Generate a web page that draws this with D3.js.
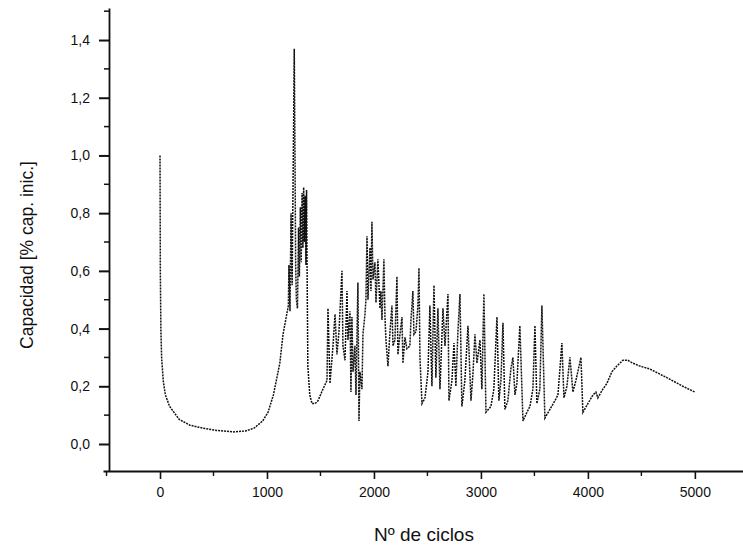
<!DOCTYPE html>
<html>
<head>
<meta charset="utf-8">
<script src="https://cdnjs.cloudflare.com/ajax/libs/d3/7.8.5/d3.min.js"></script>
<style>
  body { margin: 0; background: #fff; }
  text { font-family: "Liberation Sans", Arial, sans-serif; fill: #111; }
</style>
</head>
<body>
<svg id="canvas"></svg>
<script>
//--data (cycles vs capacity)
let cycles = [
  0, 3, 8, 15, 30, 50, 90, 180, 280, 400, 530, 690, 800, 880, 960, 1010, 1060, 1120, 1150, 1185,
  1200, 1205, 1215, 1225, 1235, 1245, 1255, 1262, 1268, 1275, 1285, 1295, 1303, 1312, 1320, 1328,
  1336, 1343, 1350, 1357, 1364, 1370, 1376, 1382, 1400, 1421, 1450, 1477, 1523, 1561, 1570, 1589,
  1617, 1636, 1654, 1673, 1701, 1710, 1729, 1748, 1757, 1776, 1785, 1794, 1804, 1822, 1832, 1850,
  1860, 1869, 1888, 1897, 1916, 1925, 1935, 1944, 1963, 1972, 1981, 1991, 2009, 2019, 2037, 2056,
  2065, 2075, 2093, 2103, 2112, 2131, 2150, 2168, 2178, 2196, 2215, 2224, 2243, 2262, 2271, 2290,
  2308, 2336, 2346, 2364, 2374, 2393, 2411, 2421, 2430, 2449, 2477, 2505, 2523, 2542, 2561, 2579,
  2598, 2617, 2645, 2664, 2692, 2701, 2729, 2748, 2766, 2785, 2804, 2822, 2850, 2879, 2907, 2925,
  2944, 2963, 2991, 3009, 3028, 3047, 3093, 3121, 3150, 3168, 3187, 3206, 3224, 3252, 3280, 3299,
  3318, 3336, 3364, 3393, 3430, 3458, 3486, 3505, 3523, 3551, 3570, 3598, 3645, 3692, 3720, 3757,
  3776, 3804, 3832, 3860, 3888, 3935, 3953, 4000, 4047, 4075, 4093, 4140, 4178, 4224, 4271, 4327,
  4374, 4421, 4486, 4579, 4738, 4888, 5000
];
let capacity = [
  1.00, 0.60, 0.40, 0.30, 0.22, 0.17, 0.13, 0.085, 0.065, 0.055, 0.047, 0.042, 0.045, 0.055, 0.08, 0.11, 0.17, 0.28, 0.38, 0.45,
  0.48, 0.62, 0.46, 0.80, 0.55, 0.95, 1.37, 0.98, 0.62, 0.50, 0.47, 0.75, 0.58, 0.82, 0.63, 0.87,
  0.68, 0.89, 0.70, 0.86, 0.62, 0.88, 0.55, 0.27, 0.17, 0.14, 0.14, 0.15, 0.19, 0.22, 0.47, 0.21,
  0.34, 0.45, 0.31, 0.39, 0.60, 0.34, 0.29, 0.53, 0.36, 0.46, 0.18, 0.44, 0.25, 0.34, 0.17, 0.56,
  0.08, 0.25, 0.19, 0.38, 0.45, 0.50, 0.72, 0.50, 0.68, 0.53, 0.77, 0.57, 0.63, 0.49, 0.64, 0.47,
  0.53, 0.43, 0.64, 0.44, 0.36, 0.27, 0.39, 0.48, 0.34, 0.36, 0.58, 0.31, 0.38, 0.44, 0.28, 0.37,
  0.33, 0.34, 0.43, 0.53, 0.38, 0.39, 0.48, 0.61, 0.30, 0.14, 0.16, 0.25, 0.48, 0.20, 0.55, 0.23,
  0.47, 0.19, 0.47, 0.34, 0.52, 0.15, 0.22, 0.35, 0.20, 0.39, 0.52, 0.13, 0.22, 0.41, 0.15, 0.24,
  0.38, 0.28, 0.36, 0.19, 0.52, 0.11, 0.13, 0.19, 0.44, 0.15, 0.22, 0.42, 0.12, 0.15, 0.26, 0.30,
  0.17, 0.21, 0.41, 0.08, 0.11, 0.13, 0.19, 0.41, 0.14, 0.19, 0.48, 0.09, 0.12, 0.15, 0.17, 0.35,
  0.16, 0.20, 0.30, 0.18, 0.22, 0.30, 0.11, 0.14, 0.17, 0.18, 0.16, 0.19, 0.21, 0.25, 0.27, 0.29,
  0.29, 0.28, 0.27, 0.26, 0.23, 0.20, 0.18
];
//--

//--ticks
let xTickValues = [0, 1000, 2000, 3000, 4000, 5000];
let xTickLabels = ["0", "1000", "2000", "3000", "4000", "5000"];
let xMinorTicks = [-500, 500, 1500, 2500, 3500, 4500];
let yTickValues = [0, 0.2, 0.4, 0.6, 0.8, 1.0, 1.2, 1.4];
let yTickLabels = ["0,0", "0,2", "0,4", "0,6", "0,8", "1,0", "1,2", "1,4"];
let yMinorTicks = [0.1, 0.3, 0.5, 0.7, 0.9, 1.1, 1.3, 1.5];
//--

//--canvas
let width = 743;
let height = 551;

let canvas = d3.select("#canvas")
canvas.attr("width", width)
canvas.attr("height", height)
//--

let xScale = d3.scaleLinear()
               .domain([-533, 5450])
               .range([103, 743])

let yScale = d3.scaleLinear()
               .domain([-0.0936, 1.511])
               .range([471, 8])

let drawChart = () => {

    //--y axis
    let yAxis = d3.axisLeft(yScale)
                  .tickValues(yTickValues)
                  .tickFormat((d, i) => yTickLabels[i])
                  .tickSize(10)
                  .tickSizeOuter(0)
                  .tickPadding(9)

    let yG = canvas.append('g')
                   .attr('transform', 'translate(109, 0)')
                   .call(yAxis)

    yG.selectAll('.tick line').attr('stroke', '#111').attr('stroke-width', 2)
    yG.select('.domain').attr('stroke', '#111').attr('stroke-width', 1.8)
    yG.selectAll('text')
      .attr('font-size', 14)
      .attr('font-family', '"Liberation Sans", Arial, sans-serif')
      .attr('fill', '#111')

    yG.selectAll('.minor')
      .data(yMinorTicks)
      .enter()
      .append('line')
      .attr('class', 'minor')
      .attr('x1', -5)
      .attr('x2', 0)
      .attr('y1', d => yScale(d))
      .attr('y2', d => yScale(d))
      .attr('stroke', '#111')
      .attr('stroke-width', 1.5)
    //--

    //--x axis
    let xAxis = d3.axisBottom(xScale)
                  .tickValues(xTickValues)
                  .tickFormat((d, i) => xTickLabels[i])
                  .tickSize(8)
                  .tickSizeOuter(0)
                  .tickPadding(8)

    let xG = canvas.append('g')
                   .attr('transform', 'translate(0, 471)')
                   .call(xAxis)

    xG.selectAll('.tick line').attr('stroke', '#111').attr('stroke-width', 1.6)
    xG.select('.domain').attr('stroke', '#111').attr('stroke-width', 2)
    xG.selectAll('text')
      .attr('font-size', 14)
      .attr('font-family', '"Liberation Sans", Arial, sans-serif')
      .attr('fill', '#111')

    xG.selectAll('.minor')
      .data(xMinorTicks)
      .enter()
      .append('line')
      .attr('class', 'minor')
      .attr('x1', d => xScale(d))
      .attr('x2', d => xScale(d))
      .attr('y1', 0)
      .attr('y2', 5)
      .attr('stroke', '#111')
      .attr('stroke-width', 1.4)
    //--

    //--the curve
    let points = cycles.map((c, i) => [c, capacity[i]])

    let line = d3.line()
                 .x(d => xScale(d[0]))
                 .y(d => yScale(d[1]))

    canvas.append('path')
          .datum(points)
          .attr('d', line)
          .attr('fill', 'none')
          .attr('stroke', '#111')
          .attr('stroke-width', 1.5)
          .attr('stroke-dasharray', '2,1')
    //--

    //--axis titles
    canvas.append('text')
          .attr('x', 424)
          .attr('y', 541)
          .attr('text-anchor', 'middle')
          .attr('font-size', 19)
          .text('Nº de ciclos')

    canvas.append('text')
          .attr('transform', 'translate(33, 255) rotate(-90)')
          .attr('text-anchor', 'middle')
          .attr('font-size', 17.5)
          .text('Capacidad [% cap. inic.]')
    //--
}

drawChart()
</script>
</body>
</html>
